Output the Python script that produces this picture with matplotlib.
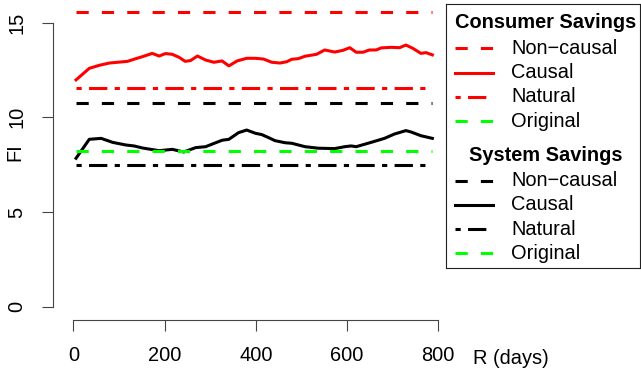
import matplotlib
matplotlib.use("Agg")
from matplotlib import pyplot as plt

plt.rcParams['font.family'] = ['Liberation Sans', 'DejaVu Sans']

# constant reference levels
consumer_noncausal = 15.57
consumer_natural = 11.53
consumer_original = 8.22
system_noncausal = 10.77
system_natural = 7.48
system_original = 8.22

# consumer savings, causal
consumer_days = [6, 35, 57, 79, 119, 137, 152, 173, 188, 202, 217, 232, 245, 257,
                 272, 290, 308, 326, 341, 359, 380, 399, 417, 435, 453, 468, 479,
                 493, 508, 533, 551, 573, 591, 606, 620, 635, 649, 664, 675, 697,
                 715, 729, 744, 762, 773, 787]
consumer_causal = [11.98, 12.59, 12.75, 12.87, 12.96, 13.10, 13.21, 13.38, 13.24,
                   13.37, 13.33, 13.17, 12.96, 13.00, 13.24, 13.03, 12.91, 12.98,
                   12.72, 12.98, 13.12, 13.12, 13.08, 12.91, 12.87, 12.94, 13.07,
                   13.10, 13.23, 13.33, 13.56, 13.45, 13.54, 13.68, 13.44, 13.44,
                   13.56, 13.56, 13.67, 13.70, 13.68, 13.82, 13.65, 13.38, 13.42,
                   13.30]

# system savings, causal
system_days = [6, 35, 61, 86, 115, 133, 152, 188, 217, 242, 268, 290, 326, 341,
               362, 380, 399, 413, 428, 442, 464, 479, 508, 537, 573, 595, 609,
               620, 653, 682, 704, 729, 740, 762, 787]
system_causal = [7.84, 8.84, 8.89, 8.68, 8.54, 8.49, 8.38, 8.24, 8.31, 8.17, 8.40,
                 8.45, 8.79, 8.84, 9.19, 9.33, 9.16, 9.09, 8.93, 8.77, 8.66, 8.63,
                 8.45, 8.37, 8.35, 8.45, 8.49, 8.45, 8.68, 8.89, 9.12, 9.30, 9.23,
                 9.03, 8.89]

x_ticks = [0, 200, 400, 600, 800]
y_ticks = [0, 5, 10, 15]

W, H = 641, 371
LW = 2.2  # ~3 px
dash = (0, (4, 4.3))
dotdash = (0, (1.7, 2.4, 6, 2.4))
red, green, black = '#FF0000', '#00FF00', '#000000'

fig = plt.figure(figsize=(W / 100, H / 100), dpi=100)
ax = fig.add_axes([62 / W, 1 - 318 / H, (449 - 62) / W, 318 / H])
ax.set_xlim(-24.8, 823.5)
ax.set_ylim(-0.6, 16.2)

x0, x1 = consumer_days[0], consumer_days[-1]
ax.hlines(consumer_noncausal, x0, x1, color=red, lw=LW, linestyle=dash)
ax.plot(consumer_days, consumer_causal, color=red, lw=LW, solid_joinstyle='round')
ax.hlines(consumer_natural, x0, x1, color=red, lw=LW, linestyle=dotdash)
ax.hlines(system_noncausal, x0, x1, color=black, lw=LW, linestyle=dash)
ax.plot(system_days, system_causal, color=black, lw=LW, solid_joinstyle='round')
ax.hlines(consumer_original, x0, x1, color=green, lw=LW, linestyle=dash)
ax.hlines(system_natural, x0, x1, color=black, lw=LW, linestyle=dotdash)

# R-style detached axes
for s in ['top', 'right']:
    ax.spines[s].set_visible(False)
ax.spines['left'].set_position(('outward', 6.5))
ax.spines['bottom'].set_position(('outward', 1.5))
ax.spines['left'].set_bounds(0, 15)
ax.spines['bottom'].set_bounds(0, 800)
for s in ['left', 'bottom']:
    ax.spines[s].set_color('#444444')
    ax.spines[s].set_linewidth(0.8)
ax.set_xticks(x_ticks)
ax.set_yticks(y_ticks)
ax.tick_params(axis='both', length=8.0, width=0.8, color='#444444', labelsize=14.4)
ax.tick_params(axis='x', pad=11)
ax.tick_params(axis='y', pad=11)
for lab in ax.get_yticklabels():
    lab.set_rotation(90)
    lab.set_va('center')

fig.text(15 / W, 1 - 152 / H, 'FI', rotation=90, ha='center', va='center', fontsize=14.4)
fig.text(472.7 / W, 1 - 363.7 / H, 'R (days)', ha='left', va='baseline', fontsize=14.4)

# legend box
lax = fig.add_axes([445.5 / W, 1 - 268 / H, (640 - 445.5) / W, 264 / H])
lax.set_xlim(445.5, 640)
lax.set_ylim(268, 4)
lax.set_xticks([])
lax.set_yticks([])
for s in lax.spines.values():
    s.set_linewidth(0.8)
    s.set_color('#222222')

groups = [
    ('Consumer Savings', 22.7, [('Non\u2212causal', red, dash), ('Causal', red, '-'),
                                ('Natural', red, dotdash), ('Original', green, dash)]),
    ('System Savings', 155, [('Non\u2212causal', black, dash), ('Causal', black, '-'),
                             ('Natural', black, dotdash), ('Original', green, dash)]),
]
for title, ty, items in groups:
    lax.text(545.5, ty, title, ha='center', va='center', fontsize=14.4, fontweight='bold')
    for i, (name, col, ls) in enumerate(items):
        yy = ty + 25.5 + i * 24.3
        lax.plot([455, 493], [yy, yy], color=col, lw=LW, linestyle=ls)
        lax.text(511, yy, name, ha='left', va='center', fontsize=14.4)

fig.savefig('out.png', dpi=100)
